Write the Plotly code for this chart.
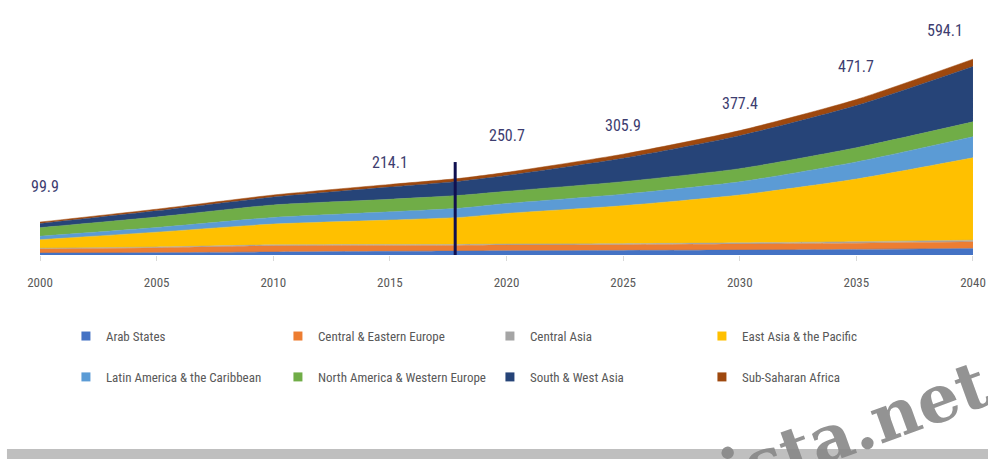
import plotly.graph_objects as go

# ---------------- data ----------------
years = [2000, 2005, 2010, 2015, 2018, 2020, 2025, 2030, 2035, 2040]

arab_states = [6, 7, 9, 11, 12, 13, 14, 15, 17, 20]
central_eastern_europe = [12.5, 15, 19, 18, 17, 17, 17, 18, 19, 20]
central_asia = [2, 2.3, 2.8, 3, 3, 3.2, 3.5, 4, 4.5, 5]
east_asia_pacific = [26, 45, 63, 74, 82, 93, 115, 145, 190, 250]
latin_america_caribbean = [10.5, 14, 20, 25, 28, 30, 35, 40, 52, 64]
north_america_western_europe = [26, 32, 38, 38, 39, 37, 38, 40, 43, 45]
south_west_asia = [12.4, 18.7, 24, 37, 43, 48, 71, 100, 128, 168]
sub_saharan_africa = [4.5, 5, 6.2, 8.1, 8.5, 9.5, 12.4, 15.4, 18.2, 22.1]

series_names = [
    "Arab States", "Central & Eastern Europe", "Central Asia", "East Asia & the Pacific",
    "Latin America & the Caribbean", "North America & Western Europe",
    "South & West Asia", "Sub-Saharan Africa",
]
series_values = [
    arab_states, central_eastern_europe, central_asia, east_asia_pacific,
    latin_america_caribbean, north_america_western_europe, south_west_asia,
    sub_saharan_africa,
]

label_years = [2000, 2015, 2020, 2025, 2030, 2035, 2040]
label_texts = ["99.9", "214.1", "250.7", "305.9", "377.4", "471.7", "594.1"]

tick_years = [2000, 2005, 2010, 2015, 2020, 2025, 2030, 2035, 2040]
projection_year = 2017.8

# ---------------- styling ----------------
colors = ["#4472C4", "#ED7D31", "#A5A5A5", "#FFC000",
          "#5B9BD5", "#70AD47", "#264478", "#9E480E"]
label_yshift = [36, 22, 37, 29, 27, 33, 29]
label_xshift = [5, 0, 0, 0, 0, 0, -28]
FONT = "Roboto Condensed, Liberation Sans Narrow, Roboto, sans-serif"

fig = go.Figure()

for name, vals, col in zip(series_names, series_values, colors):
    fig.add_trace(go.Scatter(
        x=years, y=vals, name=name, stackgroup="one", mode="lines",
        line=dict(width=0.5, color=col, shape="spline", smoothing=0.6),
        fillcolor=col, showlegend=False, legendgroup=name,
        hoverinfo="x+y+name",
    ))

# legend entries (small square swatches), split into two rows
for i, (name, col) in enumerate(zip(series_names, colors)):
    fig.add_trace(go.Scatter(
        x=[None], y=[None], mode="markers", name=name, legendgroup=name,
        marker=dict(symbol="square", size=9, color=col),
        legend="legend" if i < 4 else "legend2",
    ))

# totals
totals = [round(sum(v[i] for v in series_values), 1) for i in range(len(years))]
for yr, txt, ys, xs in zip(label_years, label_texts, label_yshift, label_xshift):
    idx = years.index(yr)
    fig.add_annotation(
        x=yr, y=totals[idx], text=txt, showarrow=False,
        yshift=ys, xshift=xs,
        font=dict(family=FONT, size=16, color="#3d3d70"),
    )

# projection divider
fig.add_shape(type="line", x0=projection_year, x1=projection_year,
              y0=-21, y1=282, xref="x", yref="y",
              line=dict(color="#10104f", width=3), layer="above")

# bottom grey band
fig.add_shape(type="rect", xref="paper", yref="paper",
              x0=-0.0354, x1=1.02, y0=-0.826, y1=-0.88,
              fillcolor="#bfbfbf", line=dict(width=0), layer="below")

# watermark
fig.add_annotation(
    xref="paper", yref="paper", x=0.873, y=-0.741, text="<b>ista.net</b>",
    xanchor="center", yanchor="middle",
    showarrow=False, textangle=-20,
    font=dict(family="DejaVu Serif, serif", size=66, color="rgba(135,135,135,0.9)"),
)

legend_common = dict(
    orientation="h", xanchor="left", yanchor="middle",
    entrywidth=167, entrywidthmode="pixels",
    font=dict(family=FONT, size=13, color="#595959"),
    bgcolor="rgba(0,0,0,0)", itemwidth=30, traceorder="normal",
)

fig.update_layout(
    width=988, height=459,
    margin=dict(l=40, r=15, t=20, b=204, autoexpand=False),
    paper_bgcolor="white", plot_bgcolor="white",
    xaxis=dict(
        range=[1999.999, 2040.001], tickvals=tick_years,
        ticktext=[str(t) for t in tick_years],
        showgrid=False, zeroline=False, showline=False, automargin=False,
        ticks="outside", ticklen=5, tickcolor="#d9d9d9",
        ticklabelstandoff=10,
        tickfont=dict(family=FONT, size=13, color="#595959"),
    ),
    yaxis=dict(range=[0, 713], visible=False, showgrid=False, zeroline=False),
    legend=dict(x=0.0278, y=-0.345, **legend_common),
    legend2=dict(x=0.0278, y=-0.519, **legend_common),
    showlegend=True,
)

fig.write_html("out.html", config={"displayModeBar": False},
               post_script="document.body.style.margin='0';")
